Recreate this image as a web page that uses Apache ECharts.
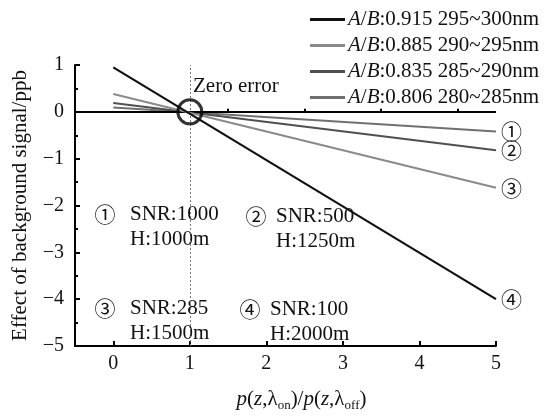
<!DOCTYPE html>
<html><head><meta charset="utf-8">
<script src="https://cdn.jsdelivr.net/npm/echarts@6/dist/echarts.min.js"></script>
<style>html,body{margin:0;padding:0;background:#fff}#c{width:549px;height:417px}</style>
</head><body><div id="c"></div>
<script>
var xValues = [0, 5];
var seriesNames = ['A/B:0.915 295~300nm', 'A/B:0.885 290~295nm', 'A/B:0.835 285~290nm', 'A/B:0.806 280~285nm'];
var seriesValues = [
  [0.95, -4.0],
  [0.38, -1.62],
  [0.19, -0.82],
  [0.09, -0.42]
];
var endMarks = ['④', '③', '②', '①'];
var seriesColors = ['#111111', '#8a8a8a', '#505050', '#707070'];
var xMajorTicks = [0, 1, 2, 3, 4, 5];
var xMinorTicks = [0.5, 1.5, 2.5, 3.5, 4.5];
var zeroPoint = [1, 0];
var notes = [
  { mark: '①', cx: 105, tx: 130, y1: 214, y2: 239, l1: 'SNR:1000', l2: 'H:1000m' },
  { mark: '②', cx: 256, tx: 276, y1: 216, y2: 241, l1: 'SNR:500', l2: 'H:1250m' },
  { mark: '③', cx: 105, tx: 130, y1: 308, y2: 333, l1: 'SNR:285', l2: 'H:1500m' },
  { mark: '④', cx: 250, tx: 270, y1: 309, y2: 334, l1: 'SNR:100', l2: 'H:2000m' }
];

var FONT = '"Liberation Serif", "Times New Roman", serif';
var CIRC = '"Noto Sans CJK SC", "DejaVu Sans", sans-serif';
var chart = echarts.init(document.getElementById('c'));

var series = seriesNames.map(function (name, i) {
  return {
    name: name, type: 'line', xAxisIndex: 0, yAxisIndex: 0,
    data: xValues.map(function (x, j) { return [x, seriesValues[i][j]]; }),
    symbol: 'none', color: seriesColors[i],
    lineStyle: { width: i === 0 ? 2.2 : 2, color: seriesColors[i] },
    endLabel: { show: true, formatter: endMarks[i], fontSize: 21, color: '#111',
      fontFamily: CIRC, distance: 5 },
    z: 3 + (3 - i)
  };
});
series.push({
  type: 'line', xAxisIndex: 0, yAxisIndex: 0, data: [], silent: true,
  markLine: { symbol: 'none', silent: true, label: { show: false },
    data: [
      { yAxis: 0, lineStyle: { color: '#000', width: 2, type: 'solid' } },
      { xAxis: 1, lineStyle: { color: '#777', width: 1, type: [2, 2] } }
    ] }
});
series.push({
  type: 'scatter', xAxisIndex: 0, yAxisIndex: 0, data: [zeroPoint], symbol: 'circle', symbolSize: 24,
  itemStyle: { color: 'rgba(0,0,0,0)', borderColor: '#000', borderWidth: 3 }, z: 10, silent: true
});

var legendRich = {
  i: { fontStyle: 'italic', fontFamily: FONT, fontSize: 21, color: '#111' },
  n: { fontFamily: FONT, fontSize: 21, color: '#111' }
};

var graphics = [
  { type: 'text', x: 193, y: 86, style: { text: 'Zero error', font: '21px ' + FONT, fill: '#111', verticalAlign: 'middle' } }
];
notes.forEach(function (n) {
  graphics.push({ type: 'text', x: n.cx, y: n.y1, style: { text: n.mark, font: '21px ' + CIRC, fill: '#111', align: 'center', verticalAlign: 'middle' } });
  graphics.push({ type: 'text', x: n.tx, y: n.y1, style: { text: n.l1, font: '21px ' + FONT, fill: '#111', verticalAlign: 'middle' } });
  graphics.push({ type: 'text', x: n.tx, y: n.y2, style: { text: n.l2, font: '21px ' + FONT, fill: '#111', verticalAlign: 'middle' } });
});

chart.setOption({
  animation: false,
  grid: { left: 75, right: 53, top: 65, bottom: 67 },
  legend: {
    orient: 'vertical', left: 310, top: 9, itemWidth: 35, itemHeight: 3, itemGap: 5,
    icon: 'rect', data: seriesNames, padding: 0,
    textStyle: { fontFamily: FONT, fontSize: 21, color: '#111', rich: legendRich, padding: [0, 0, 0, -2] },
    formatter: function (n) { return '{i|A}{n|/}{i|B}{n|' + n.slice(3) + '}'; }
  },
  xAxis: [{
    type: 'value', min: -0.5, max: 5,
    axisLine: { show: true, lineStyle: { color: '#000', width: 2 }, onZero: false },
    axisTick: { show: true, inside: true, length: 5, customValues: xMajorTicks, lineStyle: { color: '#000', width: 2 } },
    axisLabel: { customValues: xMajorTicks, fontFamily: FONT, fontSize: 20, color: '#111', margin: 8 },
    splitLine: { show: false },
    name: '{i|p}{n|(}{i|z}{n|,λ}{s|on}{n|)/}{i|p}{n|(}{i|z}{n|,λ}{s|off}{n|)}',
    nameLocation: 'middle', nameGap: 40,
    nameTextStyle: { padding: [0, 0, 0, 32], rich: {
      i: { fontStyle: 'italic', fontFamily: FONT, fontSize: 21, color: '#111', lineHeight: 26 },
      n: { fontFamily: FONT, fontSize: 21, color: '#111', lineHeight: 26 },
      s: { fontFamily: FONT, fontSize: 13, color: '#111', verticalAlign: 'bottom', lineHeight: 14 }
    } }
  }, {
    type: 'value', min: -0.5, max: 5, position: 'bottom',
    axisLine: { show: false },
    axisTick: { show: true, inside: true, length: 3, customValues: xMinorTicks, lineStyle: { color: '#000', width: 2 } },
    axisLabel: { show: false }, splitLine: { show: false }
  }],
  yAxis: {
    type: 'value', min: -5, max: 1, interval: 1,
    axisLine: { show: true, lineStyle: { color: '#000', width: 2 }, onZero: false },
    axisTick: { show: true, inside: true, length: 5, lineStyle: { color: '#000', width: 2 } },
    minorTick: { show: true, splitNumber: 2, length: 3, lineStyle: { color: '#000', width: 2 } },
    axisLabel: { fontFamily: FONT, fontSize: 20, color: '#111', margin: 11,
      formatter: function (v) { return String(v).replace('-', '\u2212'); } },
    splitLine: { show: false },
    name: 'Effect of background signal/ppb', nameLocation: 'middle', nameGap: 44, nameRotate: 90,
    nameTextStyle: { fontFamily: FONT, fontSize: 21, color: '#111' }
  },
  graphic: graphics,
  series: series
});
</script></body></html>
